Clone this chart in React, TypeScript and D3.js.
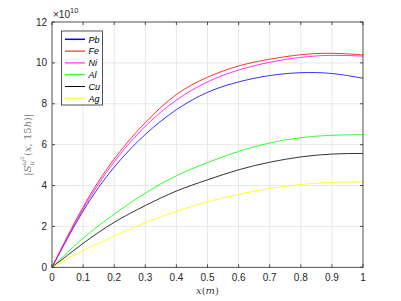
import React from "react";
import * as d3 from "d3";

const xs = [0, 0.1, 0.2, 0.3, 0.4, 0.5, 0.6, 0.7, 0.8, 0.9, 1.0];
const pb = [0, 2.75, 4.9, 6.5, 7.71, 8.56, 9.07, 9.38, 9.52, 9.48, 9.25];
const fe = [0, 2.95, 5.3, 7.08, 8.45, 9.3, 9.85, 10.18, 10.4, 10.47, 10.39];
const ni = [0, 2.85, 5.16, 6.9, 8.18, 9.07, 9.65, 10.03, 10.27, 10.37, 10.33];
const al = [0, 1.42, 2.6, 3.63, 4.48, 5.12, 5.67, 6.08, 6.34, 6.46, 6.49];
const cu = [0, 1.17, 2.2, 3.02, 3.73, 4.28, 4.77, 5.14, 5.4, 5.54, 5.57];
const ag = [0, 0.82, 1.53, 2.18, 2.74, 3.2, 3.57, 3.86, 4.05, 4.15, 4.18];

const seriesNames = ["Pb", "Fe", "Ni", "Al", "Cu", "Ag"];
const seriesValues = [pb, fe, ni, al, cu, ag];
const seriesColors = ["#0000ff", "#ff0000", "#ff00ff", "#00ff00", "#000000", "#ffff00"];

const xTicks = [0, 0.1, 0.2, 0.3, 0.4, 0.5, 0.6, 0.7, 0.8, 0.9, 1];
const yTicks = [0, 2, 4, 6, 8, 10, 12];

export default function App() {
  const W = 401, H = 301;
  const L = 52, R = 363, T = 22, B = 267.3;
  const x = d3.scaleLinear().domain([0, 1]).range([L, R]);
  const y = d3.scaleLinear().domain([0, 12]).range([B, T]);
  const line = d3.line<number>().x((_, i) => x(xs[i])).y((d) => y(d)).curve(d3.curveNatural);
  const axisColor = "#262626";
  const gridColor = "#e8e8e8";
  const font = "'Liberation Sans', Arial, sans-serif";
  const tl = 3;
  return (
    <svg width={W} height={H} style={{ position: "absolute", left: 0, top: 0 }}>
      <rect x={0} y={0} width={W} height={H} fill="#fff" />
      {xTicks.slice(1, -1).map((t) => (
        <line key={"gx" + t} x1={x(t)} x2={x(t)} y1={T} y2={B} stroke={gridColor} strokeWidth={1} />
      ))}
      {yTicks.slice(1, -1).map((t) => (
        <line key={"gy" + t} x1={L} x2={R} y1={y(t)} y2={y(t)} stroke={gridColor} strokeWidth={1} />
      ))}
      {seriesValues.map((s, i) => (
        <path key={seriesNames[i]} d={line(s) || ""} fill="none" stroke={seriesColors[i]} strokeWidth={0.8} />
      ))}
      <rect x={L} y={T} width={R - L} height={B - T} fill="none" stroke={axisColor} strokeWidth={0.8} />
      {xTicks.map((t) => (
        <g key={"tx" + t}>
          <line x1={x(t)} x2={x(t)} y1={B} y2={B - tl} stroke={axisColor} strokeWidth={0.8} />
          <line x1={x(t)} x2={x(t)} y1={T} y2={T + tl} stroke={axisColor} strokeWidth={0.8} />
          <text x={x(t)} y={B + 14} textAnchor="middle" fontFamily={font} fontSize={10} fill={axisColor}>
            {String(t)}
          </text>
        </g>
      ))}
      {yTicks.map((t) => (
        <g key={"ty" + t}>
          <line x1={L} x2={L + tl} y1={y(t)} y2={y(t)} stroke={axisColor} strokeWidth={0.8} />
          <line x1={R} x2={R - tl} y1={y(t)} y2={y(t)} stroke={axisColor} strokeWidth={0.8} />
          <text x={L - 5} y={y(t) + 3.5} textAnchor="end" fontFamily={font} fontSize={10} fill={axisColor}>
            {String(t)}
          </text>
        </g>
      ))}
      <text x={53} y={18} fontFamily={font} fontSize={10} fill={axisColor}>
        ×10
        <tspan dy={-5} fontSize={7.5}>10</tspan>
      </text>
      <text x={(L + R) / 2} y={294} textAnchor="middle" fontFamily="'DejaVu Serif', serif" fontSize={10} fill="#404040">
        <tspan fontStyle="italic">x</tspan>(<tspan fontStyle="italic">m</tspan>)
      </text>
      <text
        transform={`translate(31, ${(T + B) / 2}) rotate(-90)`}
        textAnchor="middle"
        fontFamily="'DejaVu Serif', serif"
        fontSize={10}
        fill="#7a7a7a"
      >
        |<tspan fontStyle="italic">S</tspan>
        <tspan dy={-5} fontSize={7} fontStyle="italic">ω</tspan>
        <tspan dy={-2} fontSize={5}>2</tspan>
        <tspan dx={-9} dy={10} fontSize={7} fontStyle="italic">u</tspan>
        <tspan dx={5} dy={-3}>(</tspan>
        <tspan fontStyle="italic">x</tspan>, 15<tspan fontStyle="italic">h</tspan>)|
      </text>
      <g>
        <rect x={61.5} y={31} width={41} height={74} fill="#fff" stroke={axisColor} strokeWidth={0.8} />
        {seriesNames.map((n, i) => (
          <g key={"lg" + n}>
            <line x1={65} x2={85} y1={39.3 + i * 11.8} y2={39.3 + i * 11.8} stroke={seriesColors[i]} strokeWidth={i === 0 ? 1.5 : 1} />
            <text x={88.5} y={39.3 + i * 11.8 + 3.3} fontFamily={font} fontSize={9} fontStyle="italic" fill="#000">
              {n}
            </text>
          </g>
        ))}
      </g>
    </svg>
  );
}
